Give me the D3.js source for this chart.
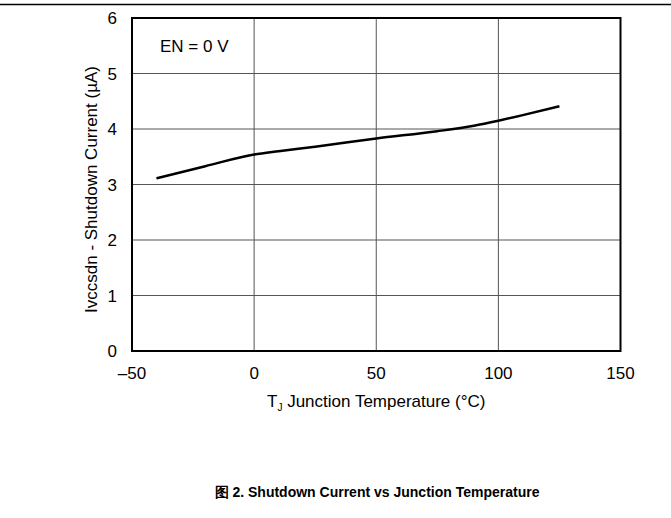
<!DOCTYPE html>
<html>
<head>
<meta charset="utf-8">
<script src="https://cdn.jsdelivr.net/npm/d3@7"></script>
<style>
  body { margin: 0; background: #fff; }
  text { font-family: "Liberation Sans", Arial, sans-serif; fill: #000; }
</style>
</head>
<body>
<div id="chart"></div>
<script>
const WIDTH = 671;
const HEIGHT = 518;

// data
const temps = [-40, -20, 0, 10, 25, 50, 75, 90, 100, 110, 125];
const currents = [3.11, 3.33, 3.54, 3.60, 3.68, 3.83, 3.96, 4.06, 4.15, 4.25, 4.41];
const xTicks = [-50, 0, 50, 100, 150];
const yTicks = [0, 1, 2, 3, 4, 5, 6];

const margin = { left: 132, right: 50, top: 18, bottom: 167 };

const svg = d3.select("#chart")
    .append("svg")
    .attr("width", WIDTH)
    .attr("height", HEIGHT);

const x = d3.scaleLinear()
    .domain([-50, 150])
    .range([margin.left, WIDTH - margin.right - 0.5]);

const y = d3.scaleLinear()
    .domain([0, 6])
    .range([HEIGHT - margin.bottom, margin.top]);

// top rule
svg.append("line")
    .attr("x1", 0).attr("x2", WIDTH)
    .attr("y1", 4.5).attr("y2", 4.5)
    .attr("stroke", "#000")
    .attr("stroke-width", 1.5);

// grid
const grid = svg.append("g");
grid.selectAll(".gx")
    .data(xTicks.slice(1, -1))
    .enter()
    .append("line")
    .attr("x1", d => x(d)).attr("x2", d => x(d))
    .attr("y1", y(6)).attr("y2", y(0))
    .attr("stroke", "#555")
    .attr("stroke-width", 1);

grid.selectAll(".gy")
    .data(yTicks.slice(1, -1))
    .enter()
    .append("line")
    .attr("x1", x(-50)).attr("x2", x(150))
    .attr("y1", d => y(d)).attr("y2", d => y(d))
    .attr("stroke", "#555")
    .attr("stroke-width", 1);

// frame
svg.append("rect")
    .attr("x", x(-50))
    .attr("y", y(6))
    .attr("width", x(150) - x(-50))
    .attr("height", y(0) - y(6))
    .attr("fill", "none")
    .attr("stroke", "#000")
    .attr("stroke-width", 2);

// tick labels
svg.append("g").selectAll("text")
    .data(xTicks)
    .enter()
    .append("text")
    .attr("x", d => x(d))
    .attr("y", y(0) + 28)
    .attr("text-anchor", "middle")
    .style("font-size", "17px")
    .text(d => d < 0 ? "\u2013" + Math.abs(d) : d);

svg.append("g").selectAll("text")
    .data(yTicks)
    .enter()
    .append("text")
    .attr("x", x(-50) - 15)
    .attr("y", d => y(d) + 6)
    .attr("text-anchor", "end")
    .style("font-size", "17px")
    .text(d => d);

// axis titles
const xt = svg.append("text")
    .attr("x", (x(-50) + x(150)) / 2)
    .attr("y", y(0) + 56)
    .attr("text-anchor", "middle")
    .style("font-size", "17px");
xt.append("tspan").text("T");
xt.append("tspan").attr("dy", 4).style("font-size", "10px").text("J");
xt.append("tspan").attr("dy", -4).text(" Junction Temperature (\u00B0C)");

svg.append("text")
    .attr("transform", `translate(97, ${(y(0) + y(6)) / 2 + 5}) rotate(-90)`)
    .attr("text-anchor", "middle")
    .style("font-size", "17px")
    .text("Ivccsdn - Shutdown Current (\u00B5A)");

// annotation
svg.append("text")
    .attr("x", x(-50) + 28)
    .attr("y", y(5.5) + 6)
    .style("font-size", "17px")
    .text("EN = 0 V");

// curve
const line = d3.line()
    .x(d => x(d[0]))
    .y(d => y(d[1]))
    .curve(d3.curveMonotoneX);

svg.append("path")
    .datum(temps.map((t, i) => [t, currents[i]]))
    .attr("d", line)
    .attr("fill", "none")
    .attr("stroke", "#000")
    .attr("stroke-width", 2.5);

// caption
svg.append("text")
    .attr("x", 377)
    .attr("y", 497)
    .attr("text-anchor", "middle")
    .style("font-size", "14px")
    .style("font-weight", "bold")
    .text("\u56FE 2. Shutdown Current vs Junction Temperature");
</script>
</body>
</html>
